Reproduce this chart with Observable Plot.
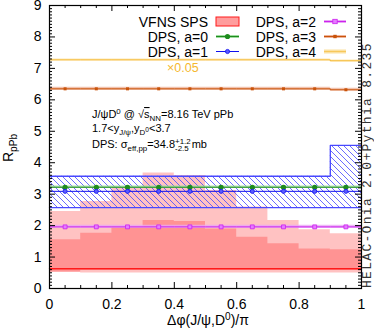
<!DOCTYPE html>
<html><head><meta charset="utf-8">
<script src="https://cdn.jsdelivr.net/npm/d3@7"></script>
<script src="https://cdn.jsdelivr.net/npm/@observablehq/plot@0.6"></script>
<style>html,body{margin:0;padding:0;background:#fff}svg{display:block}</style>
</head><body><div id="chart"></div>
<script>
// ---- data ----
const binEdges   = [0, 0.1, 0.2, 0.3, 0.4, 0.5, 0.6, 0.7, 0.8, 0.9, 1.0];
const binCenters = [0.05, 0.15, 0.25, 0.35, 0.45, 0.55, 0.65, 0.75, 0.85, 0.95];

const spsCentral   = [0.63, 0.63, 0.63, 0.63, 0.63, 0.63, 0.63, 0.63, 0.63, 0.63];
const spsOuterLow  = [0.52, 0.49, 0.49, 0.49, 0.49, 0.49, 0.49, 0.49, 0.49, 0.49];
const spsOuterHigh = [2.45, 2.77, 3.19, 3.67, 3.59, 3.12, 2.59, 2.16, 1.87, 1.74];
const spsInnerLow  = [0.52, 0.58, 0.58, 0.58, 0.58, 0.58, 0.58, 0.58, 0.58, 0.58];
const spsInnerHigh = [1.55, 1.76, 1.94, 2.16, 2.13, 1.89, 1.63, 1.42, 1.26, 1.23];

const dpsA0     = [3.22, 3.22, 3.22, 3.22, 3.22, 3.22, 3.22, 3.22, 3.22, 3.22];
const dpsA0Low  = [3.18, 3.18, 3.18, 3.18, 3.18, 3.18, 3.18, 3.18, 3.18, 3.18];
const dpsA0High = [3.26, 3.26, 3.26, 3.26, 3.26, 3.26, 3.26, 3.26, 3.26, 3.26];

const dpsA1     = [3.09, 3.09, 3.09, 3.09, 3.09, 3.09, 3.09, 3.09, 3.09, 3.09];
const dpsA1Low  = [2.57, 2.57, 2.57, 2.57, 2.57, 2.57, 2.57, 2.57, 2.57, 2.57];
const dpsA1High = [3.57, 3.57, 3.57, 3.57, 3.57, 3.57, 3.57, 3.57, 3.57, 4.55];

const dpsA2     = [1.96, 1.96, 1.96, 1.96, 1.96, 1.96, 1.96, 1.96, 1.96, 1.96];
const dpsA2Low  = [1.91, 1.91, 1.91, 1.91, 1.91, 1.91, 1.91, 1.91, 1.91, 1.91];
const dpsA2High = [2.01, 2.01, 2.01, 2.01, 2.01, 2.01, 2.01, 2.01, 2.01, 2.01];

const dpsA3     = [6.35, 6.35, 6.35, 6.35, 6.35, 6.35, 6.35, 6.35, 6.35, 6.32];
const dpsA3Low  = [6.30, 6.30, 6.30, 6.30, 6.30, 6.30, 6.30, 6.30, 6.30, 6.27];
const dpsA3High = [6.40, 6.40, 6.40, 6.40, 6.40, 6.40, 6.40, 6.40, 6.40, 6.37];

const dpsA4     = [7.27, 7.27, 7.27, 7.27, 7.27, 7.27, 7.27, 7.27, 7.27, 7.24];
const dpsA4Low  = [7.24, 7.24, 7.24, 7.24, 7.24, 7.24, 7.24, 7.24, 7.24, 7.21];
const dpsA4High = [7.30, 7.30, 7.30, 7.30, 7.30, 7.30, 7.30, 7.30, 7.30, 7.27];

const xTickLabels = [0, 0.2, 0.4, 0.6, 0.8, 1];
const yTickLabels = [0, 1, 2, 3, 4, 5, 6, 7, 8, 9];
const xMinorTicks = d3.range(0.05, 1, 0.05).filter(v => Math.abs(v * 5 - Math.round(v * 5)) > 1e-6);
const yMinorTicks = d3.range(0.1, 9, 0.1).filter(v => Math.abs(v - Math.round(v)) > 1e-6);

// ---- colors ----
const C = {
  red: "#ff1a1a", green: "#1e8c1e", greenBand: "#9fdc9f",
  blue: "#1010ee", blueEdge: "#4848ff",
  mag: "#cc22ee", magBand: "#e9a6f5",
  a3: "#c9530a", a3Band: "#eeb39a",
  a4: "#f5b82e", a4Band: "#fbe0a0"
};

// ---- helpers building tables from the arrays ----
const k = i => Math.min(i, 9);
const stepLine = v => binEdges.map((x, i) => ({x, v: v[k(i)]}));
const stepBand = (lo, hi) => binEdges.map((x, i) => ({x, lo: lo[k(i)], hi: hi[k(i)]}));
const pts = v => binCenters.map((x, i) => ({x, v: v[i]}));

const band = (lo, hi, o) => Plot.areaY(stepBand(lo, hi), {x: "x", y1: "lo", y2: "hi", curve: "step-after", ...o});
const line = (v, o) => Plot.lineY(stepLine(v), {x: "x", y: "v", curve: "step-after", ...o});

const chart = Plot.plot({
  width: 374, height: 334,
  marginLeft: 49, marginRight: 13, marginTop: 5, marginBottom: 46,
  x: {domain: [0, 1]},
  y: {domain: [0, 9]},
  style: {fontFamily: "'Liberation Sans', Arial, sans-serif", fontSize: "14px", background: "#fff", color: "#000", overflow: "visible"},
  marks: [
    band(spsOuterLow, spsOuterHigh, {fill: "#ff0000", fillOpacity: 0.24}),
    band(spsInnerLow, spsInnerHigh, {fill: "#ff0000", fillOpacity: 0.24}),
    band(dpsA1Low, dpsA1High, {fill: "url(#hatchBlue)"}),
    line(dpsA1High, {stroke: C.blueEdge, strokeWidth: 1.3}),
    line(dpsA1Low, {stroke: C.blueEdge, strokeWidth: 1.3}),
    band(dpsA2Low, dpsA2High, {fill: C.magBand, fillOpacity: 0.8}),
    line(dpsA2, {stroke: C.mag, strokeWidth: 1}),
    band(dpsA0Low, dpsA0High, {fill: C.greenBand, fillOpacity: 0.8}),
    line(dpsA0, {stroke: C.green, strokeWidth: 1}),
    line(dpsA1, {stroke: C.blue, strokeWidth: 1}),
    band(dpsA3Low, dpsA3High, {fill: C.a3Band, fillOpacity: 0.8}),
    line(dpsA3, {stroke: C.a3, strokeWidth: 1}),
    band(dpsA4Low, dpsA4High, {fill: C.a4Band, fillOpacity: 0.8}),
    line(dpsA4, {stroke: C.a4, strokeWidth: 1}),
    Plot.dot(pts(dpsA0), {x: "x", y: "v", r: 2.6, fill: C.green}),
    Plot.dot(pts(dpsA1), {x: "x", y: "v", r: 2.1, fill: "#5a5aff", stroke: C.blue, strokeWidth: 0.8}),
    Plot.dot(pts(dpsA2), {x: "x", y: "v", symbol: "square", r: 2.2, fill: "#e57cff", stroke: C.mag, strokeWidth: 0.8}),
    Plot.dot(pts(dpsA3), {x: "x", y: "v", symbol: "square", r: 1.7, fill: C.a3}),
    line(spsCentral, {stroke: C.red, strokeWidth: 1.4}),
    Plot.ruleY(yTickLabels, {y: d => d, x1: 0, x2: 0, insetRight: -6, stroke: "#000"}),
    Plot.ruleY(yMinorTicks, {y: d => d, x1: 0, x2: 0, insetRight: -3, stroke: "#000"}),
    Plot.ruleY(yTickLabels, {y: d => d, x1: 1, x2: 1, insetLeft: -6, stroke: "#000"}),
    Plot.ruleY(yMinorTicks, {y: d => d, x1: 1, x2: 1, insetLeft: -3, stroke: "#000"}),
    Plot.ruleX(xTickLabels, {x: d => d, y1: 0, y2: 0, insetBottom: 6, stroke: "#000"}),
    Plot.ruleX(xMinorTicks, {x: d => d, y1: 0, y2: 0, insetBottom: 3, stroke: "#000"}),
    Plot.ruleX(xTickLabels, {x: d => d, y1: 9, y2: 9, insetBottom: -6, stroke: "#000"}),
    Plot.ruleX(xMinorTicks, {x: d => d, y1: 9, y2: 9, insetBottom: -3, stroke: "#000"}),
    Plot.frame({stroke: "#000", strokeWidth: 1.2}),
    Plot.axisX({ticks: xTickLabels, tickSize: 0, tickPadding: 11, label: null, fontSize: 14, tickFormat: d => String(d)}),
    Plot.axisY({ticks: yTickLabels, tickSize: 0, tickPadding: 8, label: null, fontSize: 14, tickFormat: d => String(d)})
  ]
});
document.getElementById("chart").appendChild(chart);

// ---- decorations (legend, labels, annotations) ----
const svg = d3.select(chart);
const defs = svg.insert("defs", ":first-child");
defs.append("pattern").attr("id", "hatchBlue").attr("patternUnits", "userSpaceOnUse")
  .attr("width", 6).attr("height", 6)
  .append("path").attr("d", "M-1,5 L1,7 M0,0 L6,6 M5,-1 L7,1")
  .attr("stroke", "#4646ff").attr("stroke-width", 0.8).attr("fill", "none");

const FONT = "'Liberation Sans', Arial, sans-serif";
const layer = svg.append("g").attr("font-family", FONT).attr("fill", "#000").attr("text-anchor", "start");

function rich(g, x, y, size, parts, attrs = {}) {
  const t = g.append("text").attr("x", x).attr("y", y).attr("font-size", size);
  for (const [k2, v] of Object.entries(attrs)) t.attr(k2, v);
  let cur = 0;
  let prevLen = 0;
  for (const p of parts) {
    const [txt, shift, scale, back, extra] = p;
    const ts = t.append("tspan").text(txt).attr("dy", shift - cur);
    if (scale) ts.attr("font-size", size * scale);
    if (back) ts.attr("dx", -prevLen);
    if (extra) ts.attr("style", extra);
    cur = shift;
    prevLen = ts.node().getComputedTextLength();
  }
  return t;
}

// legend
const leg = layer.append("g").attr("font-size", 14);
const rows = [21.5, 36.5, 51.5];
const col1Text = 208, col1Sym = [216, 239], col2Text = 316, col2Sym = [324, 346];
const labels1 = ["VFNS SPS", "DPS, a=0", "DPS, a=1"];
const labels2 = ["DPS, a=2", "DPS, a=3", "DPS, a=4"];
labels1.forEach((s, i) => leg.append("text").attr("x", col1Text).attr("y", rows[i] + 5).attr("text-anchor", "end").text(s));
labels2.forEach((s, i) => leg.append("text").attr("x", col2Text).attr("y", rows[i] + 5).attr("text-anchor", "end").text(s));
const mid1 = (col1Sym[0] + col1Sym[1]) / 2, mid2 = (col2Sym[0] + col2Sym[1]) / 2;
leg.append("rect").attr("x", col1Sym[0]).attr("y", rows[0] - 4.5).attr("width", col1Sym[1] - col1Sym[0]).attr("height", 9)
  .attr("fill", "#ff9d9d").attr("stroke", C.red).attr("stroke-width", 1);
function legLine(xs, y, color, w, op = 1) {
  leg.append("line").attr("x1", xs[0]).attr("x2", xs[1]).attr("y1", y).attr("y2", y)
    .attr("stroke", color).attr("stroke-width", w).attr("stroke-opacity", op);
}
legLine(col1Sym, rows[1], C.greenBand, 3); legLine(col1Sym, rows[1], C.green, 1);
leg.append("circle").attr("cx", mid1).attr("cy", rows[1]).attr("r", 2.6).attr("fill", C.green);
legLine(col1Sym, rows[2], C.blue, 1);
leg.append("circle").attr("cx", mid1).attr("cy", rows[2]).attr("r", 2.1).attr("fill", "#5a5aff").attr("stroke", C.blue).attr("stroke-width", 0.8);
legLine(col2Sym, rows[0], C.magBand, 3); legLine(col2Sym, rows[0], C.mag, 1);
leg.append("rect").attr("x", mid2 - 2.2).attr("y", rows[0] - 2.2).attr("width", 4.4).attr("height", 4.4).attr("fill", "#e57cff").attr("stroke", C.mag).attr("stroke-width", 0.8);
legLine(col2Sym, rows[1], C.a3Band, 3); legLine(col2Sym, rows[1], C.a3, 1);
leg.append("rect").attr("x", mid2 - 1.7).attr("y", rows[1] - 1.7).attr("width", 3.4).attr("height", 3.4).attr("fill", C.a3);
legLine(col2Sym, rows[2], C.a4Band, 4); legLine(col2Sym, rows[2], C.a4, 1, 0.6);

// x0.05 label
layer.append("text").attr("x", 167).attr("y", 72).attr("font-size", 12.5).attr("fill", C.a4).text("×0.05");

// annotation block
const ann = layer.append("g");
rich(ann, 92, 118, 11, [["J/ψD", 0], ["0", -4, 0.72], [" @ √", 0], ["s", 0, null, false, "text-decoration: overline"], ["NN", 3, 0.72], ["=8.16 TeV pPb", 0]]);
rich(ann, 92, 132, 11, [["1.7<y", 0], ["J/ψ", 3, 0.72], [",y", 0], ["D", 3, 0.72], ["0", 0, 0.6], ["<3.7", 0]]);
rich(ann, 92, 148, 11, [["DPS: σ", 0], ["eff,pp", 3, 0.72], ["=34.8", 0], ["+1.2", -4.5, 0.72], ["-2.5", 3, 0.72, true], [" mb", 0]]);

// axis titles
rich(layer, 208, 325, 14, [["Δφ(J/ψ,D", 0], ["0", -5, 0.72], [")/π", 0]], {"text-anchor": "middle"});
rich(layer, 0, 0, 14, [["R", 0], ["pPb", 4, 0.72]], {"transform": "translate(13,162) rotate(-90)"});

// right-side generator tag
layer.append("text").attr("transform", "translate(371,288) rotate(-90)")
  .attr("font-family", "'Liberation Mono', 'DejaVu Sans Mono', monospace").attr("font-size", 13)
  .attr("letter-spacing", 1.3).attr("fill", "#333").text("HELAC-Onia 2.0+Pythia 8.235");
</script>
</body></html>
